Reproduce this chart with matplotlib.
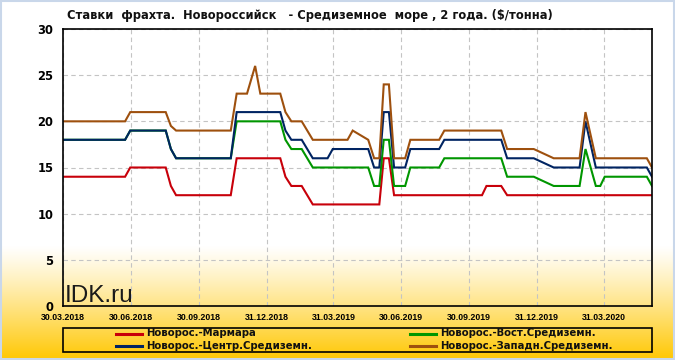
import numpy as np
import pandas as pd
import matplotlib
matplotlib.use("Agg")
import matplotlib.pyplot as plt
from matplotlib.lines import Line2D
from matplotlib.patches import Rectangle

# ---------------- data ----------------
dates = ["30.03.2018", "22.06.2018", "29.06.2018", "16.08.2018", "23.08.2018", "30.08.2018",
         "12.11.2018", "20.11.2018", "04.12.2018", "15.12.2018", "22.12.2018", "18.01.2019",
         "25.01.2019", "02.02.2019", "16.02.2019", "03.03.2019", "23.03.2019", "30.03.2019",
         "19.04.2019", "26.04.2019", "17.05.2019", "25.05.2019", "01.06.2019", "07.06.2019",
         "14.06.2019", "21.06.2019", "06.07.2019", "13.07.2019", "21.08.2019", "28.08.2019",
         "18.10.2019", "24.10.2019", "13.11.2019", "21.11.2019", "27.12.2019", "23.01.2020",
         "27.02.2020", "06.03.2020", "20.03.2020", "26.03.2020", "01.04.2020", "28.05.2020",
         "04.06.2020"]
marmara = [14, 14, 15, 15, 13, 12, 12, 16, 16, 16, 16, 16, 14, 13, 13, 11, 11, 11, 11, 11, 11, 11,
           11, 16, 16, 12, 12, 12, 12, 12, 12, 13, 13, 12, 12, 12, 12, 12, 12, 12, 12, 12, 12]
east = [18, 18, 19, 19, 17, 16, 16, 20, 20, 20, 20, 20, 18, 17, 17, 15, 15, 15, 15, 15, 15, 13,
        13, 18, 18, 13, 13, 15, 15, 16, 16, 16, 16, 14, 14, 13, 13, 17, 13, 13, 14, 14, 13]
central = [18, 18, 19, 19, 17, 16, 16, 21, 21, 21, 21, 21, 19, 18, 18, 16, 16, 17, 17, 17, 17, 15,
           15, 21, 21, 15, 15, 17, 17, 18, 18, 18, 18, 16, 16, 15, 15, 20, 15, 15, 15, 15, 14]
west = [20, 20, 21, 21, 19.5, 19, 19, 23, 23, 26, 23, 23, 21, 20, 20, 18, 18, 18, 18, 19, 18, 16,
        16, 24, 24, 16, 16, 18, 18, 19, 19, 19, 19, 17, 17, 16, 16, 21, 16, 16, 16, 16, 15]

series_labels = ["Новорос.-Мармара", "Новорос.-Вост.Средиземн.",
                 "Новорос.-Центр.Средиземн.", "Новорос.-Западн.Средиземн."]
series_colors = ["#C8000A", "#009600", "#002462", "#9E500E"]
tick_dates = ["30.03.2018", "30.06.2018", "30.09.2018", "31.12.2018", "31.03.2019",
              "30.06.2019", "30.09.2019", "31.12.2019", "31.03.2020"]
y_ticks = [0, 5, 10, 15, 20, 25, 30]
title = "Ставки  фрахта.  Новороссийск   - Средиземное  море , 2 года. ($/тонна)"

# ---------------- figure ----------------
W, H = 675, 360
fig = plt.figure(figsize=(W / 100, H / 100), dpi=100)

# background gradient
bg = fig.add_axes([0, 0, 1, 1], zorder=-10)
bg.set_axis_off()
ys = np.arange(H)
t = np.clip((ys - 245) / (H - 245), 0, 1) ** 1.15
top_c = np.array([1.0, 1.0, 1.0])
bot_c = np.array([1.0, 0.78, 0.0])
rows = top_c[None, :] * (1 - t[:, None]) + bot_c[None, :] * t[:, None]
img = np.repeat(rows[:, None, :], W, axis=1)
bg.imshow(img, aspect="auto", extent=[0, W, H, 0])
bg.set_xlim(0, W)
bg.set_ylim(H, 0)
bg.add_patch(Rectangle((0.5, 0.5), W - 2, H - 1.5, fill=False, edgecolor="#C9D7EA", lw=1.5))

L, R, T, B = 63, 652, 29, 306
ax = fig.add_axes([L / W, 1 - B / H, (R - L) / W, (B - T) / H])
ax.set_facecolor("none")

x = pd.to_datetime(dates, format="%d.%m.%Y")
for vals, lab, col in zip([marmara, east, central, west], series_labels, series_colors):
    ax.plot(x, vals, color=col, lw=1.5, label=lab, solid_joinstyle="miter")

ax.set_xlim(x[0], x[-1])
ax.set_ylim(0, 30)
tk = pd.to_datetime(tick_dates, format="%d.%m.%Y")
ax.set_xticks(tk)
ax.set_xticklabels(tick_dates, fontfamily="Liberation Sans", fontweight="bold", fontsize=6.3)
ax.set_yticks(y_ticks)
ax.set_yticklabels([str(v) for v in y_ticks], fontfamily="DejaVu Sans", fontweight="bold",
                   fontsize=8.3)
ax.tick_params(axis="both", length=0)
ax.tick_params(axis="y", pad=7)
ax.tick_params(axis="x", pad=5)
ax.grid(True, color="#C4C4C4", linestyle=(0, (4, 3)), lw=0.8)
for s in ax.spines.values():
    s.set_color("black")
    s.set_linewidth(1.2)

ax.text(2 / (R - L), 4 / (B - T), "IDK.ru", transform=ax.transAxes, fontfamily="Liberation Sans",
        fontsize=17.5, color="#1a1a1a", ha="left", va="baseline")

fig.text(67 / W, 1 - 16 / H, title, fontfamily="DejaVu Sans", fontweight="bold", fontsize=8.3,
         ha="left", va="center", color="#111111")

# legend (manual layout)
bg.add_patch(Rectangle((63, 328), 589, 24, fill=False, edgecolor="black", lw=1.2))
legend_pos = [(116, 333.5), (410, 333.5), (116, 346), (410, 346)]
for (lx, ly), lab, col in zip(legend_pos, series_labels, series_colors):
    bg.add_line(Line2D([lx, lx + 26], [ly, ly], color=col, lw=2.2))
    bg.text(lx + 30, ly, lab, fontfamily="DejaVu Sans", fontweight="bold", fontsize=7.3,
            ha="left", va="center", color="#111111")

fig.savefig("out.png", dpi=100)
